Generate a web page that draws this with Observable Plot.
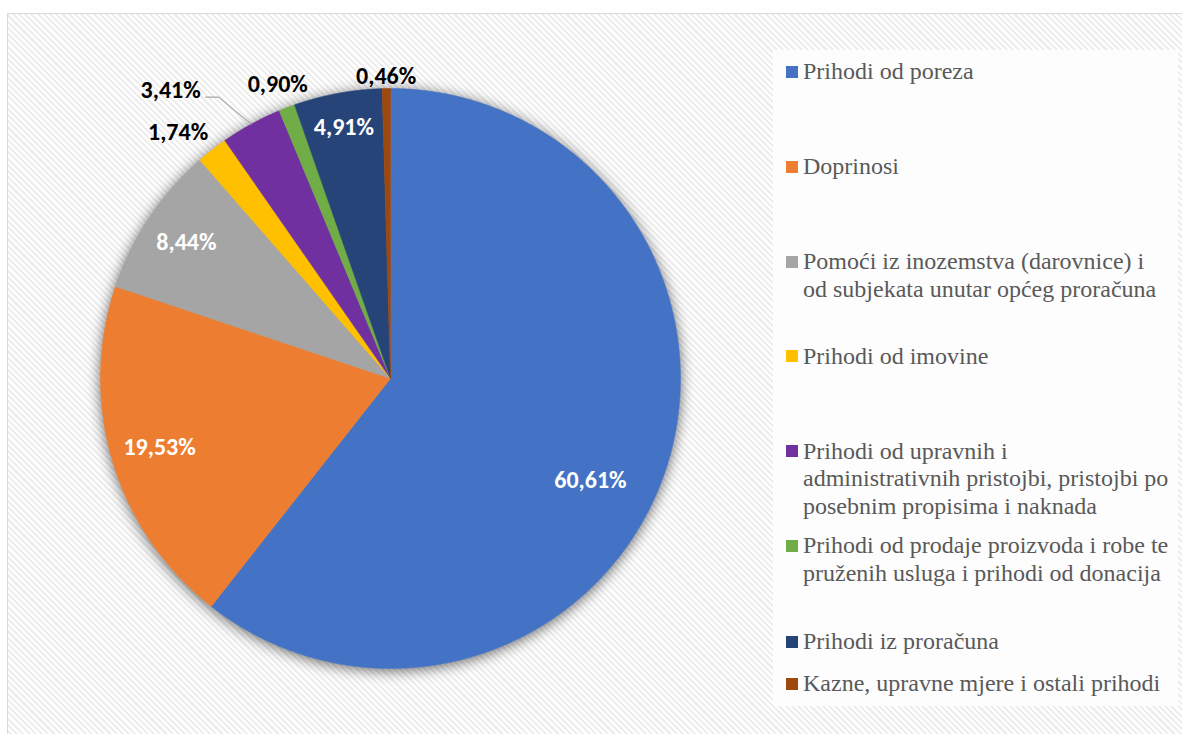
<!DOCTYPE html>
<html>
<head>
<meta charset="utf-8">
<script src="https://cdn.jsdelivr.net/npm/d3@7"></script>
<script src="https://cdn.jsdelivr.net/npm/@observablehq/plot@0.6"></script>
<style>
  html, body { margin: 0; padding: 0; background: #ffffff; }
  #wrap { position: relative; width: 1182px; height: 734px; overflow: hidden; background: #ffffff; }
  #frame {
    position: absolute; left: 7px; top: 13px; width: 1185px; height: 730px;
    border: 1.5px solid #d9d9d9; box-sizing: border-box;
    background: repeating-linear-gradient(45deg, #ffffff 0px, #ffffff 2.2px, #eeeeee 2.2px, #eeeeee 4.4px);
  }
  #legend {
    position: absolute; left: 773px; top: 50px; width: 405px; height: 656px;
    background: #fdfdfd;
  }
  .item {
    position: absolute; left: 30px; white-space: nowrap;
    font-family: 'Liberation Serif', Tinos, 'Times New Roman', serif;
    font-size: 24px; line-height: 27.4px; color: #595959;
  }
  .sw { position: absolute; left: -17px; top: 7.5px; width: 12px; height: 12px; }
  #plot { position: absolute; left: 0; top: 0; }
</style>
</head>
<body>
<div id="wrap">
  <div id="frame"></div>
  <div id="legend"></div>
  <div id="plot"></div>
</div>
<script>
// ---- data ----
const categories = [
  "Prihodi od poreza",
  "Doprinosi",
  "Pomoći iz inozemstva (darovnice) i\nod subjekata unutar općeg proračuna",
  "Prihodi od imovine",
  "Prihodi od upravnih i\nadministrativnih pristojbi, pristojbi po\nposebnim propisima i naknada",
  "Prihodi od prodaje proizvoda i robe te\npruženih usluga i prihodi od donacija",
  "Prihodi iz proračuna",
  "Kazne, upravne mjere i ostali prihodi"
];
const values = [60.61, 19.53, 8.44, 1.74, 3.41, 0.90, 4.91, 0.46];
const colors = ["#4472C4", "#ED7D31", "#A5A5A5", "#FFC000", "#7030A0", "#70AD47", "#264478", "#9E480E"];

// ---- layout (label placement, in radius units / degrees) ----
const R = 290, CX = 390, CY = 378, W = 1182, H = 734;
const labelPlace = [
  {r: 0.773, a: 116.9, inside: true},
  {r: 0.831, inside: true},
  {r: 0.846, inside: true},
  {r: 1.121, a: 319.2},
  {r: 1.251, a: 322.7, leader: true},
  {r: 1.087},
  {r: 0.882, inside: true},
  {r: 1.043}
];
const legendBaselines = [80, 175, 270, 364.5, 459.5, 554, 650, 692];

const arcs = d3.pie().sort(null).value(d => d)(values);
const fmt = v => v.toFixed(2).replace(".", ",") + "%";

function slicePoints(a0, a1, r = 1) {
  const pts = [{x: 0, y: 0}];
  const n = Math.max(2, Math.ceil((a1 - a0) / 0.004));
  for (let k = 0; k <= n; k++) {
    const t = a0 + (a1 - a0) * k / n;
    pts.push({x: r * Math.sin(t), y: r * Math.cos(t)});
  }
  pts.push({x: 0, y: 0});
  return pts;
}
const disc = slicePoints(arcs[0].startAngle, arcs[arcs.length - 1].endAngle, 1.0);

const labels = arcs.map((a, i) => {
  const p = labelPlace[i];
  const ang = p.a !== undefined ? p.a * Math.PI / 180 : (a.startAngle + a.endAngle) / 2;
  return {
    x: p.r * Math.sin(ang), y: p.r * Math.cos(ang),
    text: fmt(values[i]), inside: !!p.inside, leader: !!p.leader,
    mid: (a.startAngle + a.endAngle) / 2
  };
});
const leaderLines = labels.filter(l => l.leader).flatMap((l, j) => [
  {id: j, x: l.x + 35 / R, y: l.y - 7.2 / R},
  {id: j, x: l.x + 48 / R, y: l.y - 7.2 / R},
  {id: j, x: Math.sin(l.mid), y: Math.cos(l.mid)}
]);

const labelFont = "Carlito, Calibri, Lato, sans-serif";
const marks = [
  Plot.line(disc, {x: "x", y: "y", fill: "#bdbdbd", stroke: "none"}),
  ...arcs.map((a, i) => Plot.line(slicePoints(a.startAngle, a.endAngle), {x: "x", y: "y", fill: colors[i], stroke: colors[i], strokeWidth: 0.5})),
  Plot.line(leaderLines, {x: "x", y: "y", z: "id", stroke: "#a6a6a6", strokeWidth: 1.2}),
  Plot.text(labels.filter(d => d.inside), {x: "x", y: "y", text: "text", fill: "#ffffff", fontWeight: "bold", fontSize: 24, fontFamily: labelFont}),
  Plot.text(labels.filter(d => !d.inside), {x: "x", y: "y", text: "text", fill: "#000000", fontWeight: "bold", fontSize: 24, fontFamily: labelFont})
];

const chart = Plot.plot({
  width: W, height: H,
  margin: 0, marginTop: 0, marginRight: 0, marginBottom: 0, marginLeft: 0,
  x: {domain: [-CX / R, (W - CX) / R], range: [0, W], axis: null},
  y: {domain: [-(H - CY) / R, CY / R], range: [H, 0], axis: null},
  style: {background: "transparent", overflow: "visible"},
  marks
});
document.getElementById("plot").appendChild(chart);
const firstLine = chart.querySelector('g[aria-label="line"]');
if (firstLine) firstLine.style.filter = "drop-shadow(0px 2px 7px rgba(0,0,0,0.6))";

// legend
const legend = document.getElementById("legend");
categories.forEach((c, i) => {
  const item = document.createElement("div");
  item.className = "item";
  item.style.top = (legendBaselines[i] - 50 - 21.8) + "px";
  item.innerHTML = c.split("\n").join("<br>");
  const sw = document.createElement("span");
  sw.className = "sw";
  sw.style.background = colors[i];
  item.appendChild(sw);
  legend.appendChild(item);
});
</script>
</body>
</html>
